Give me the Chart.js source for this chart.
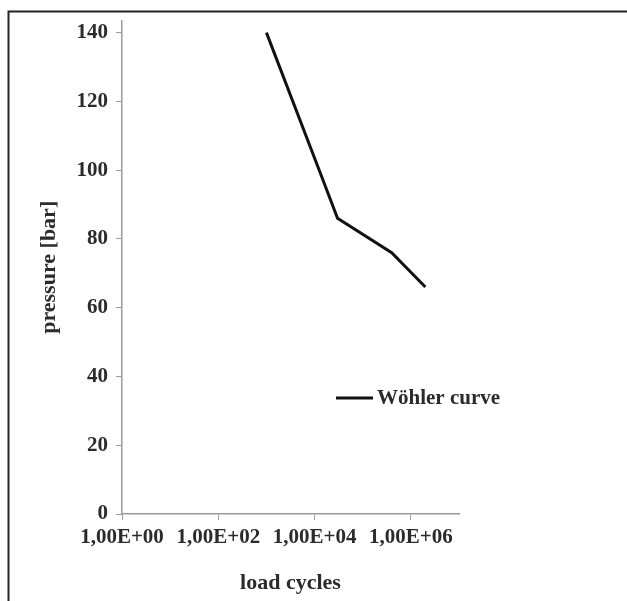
<!DOCTYPE html>
<html>
<head>
<meta charset="utf-8">
<script src="https://cdn.jsdelivr.net/npm/chart.js@4"></script>
<style>
  html, body { margin: 0; padding: 0; background: #fff; }
  #wrap { width: 627px; height: 601px; }
</style>
</head>
<body>
<div id="wrap"><canvas id="myChart" width="627" height="601"></canvas></div>
<script>
const loadCycles = [1000, 12500, 30000, 400000, 2000000];
const pressure = [140, 100, 86, 76, 66];
const xTickValues = [1, 100, 10000, 1000000];
const yTickValues = [0, 20, 40, 60, 80, 100, 120, 140];
const seriesName = 'Wöhler curve';

const serif = '"Liberation Serif", "Times New Roman", serif';
const ink = '#2b2b2b';
const axisGray = '#9a9a9a';

const sciLabel = (v) => {
  const e = Math.round(Math.log10(v));
  return '1,00E+' + (e < 10 ? '0' + e : e);
};

// frame: only top and left edges show in the picture
const framePlugin = {
  id: 'frame',
  beforeDraw(chart) {
    const c = chart.ctx;
    c.save();
    c.fillStyle = '#fff';
    c.fillRect(0, 0, chart.width, chart.height);
    c.strokeStyle = '#222';
    c.lineWidth = 2;
    c.beginPath();
    c.moveTo(8.5, chart.height);
    c.lineTo(8.5, 11.5);
    c.lineTo(chart.width, 11.5);
    c.stroke();
    c.restore();
  }
};

// legend sits inside the plot, Excel style
const innerLegend = {
  id: 'innerLegend',
  afterDatasetsDraw(chart) {
    const c = chart.ctx;
    const ds = chart.data.datasets[0];
    const x0 = 336, y0 = 398;
    c.save();
    c.strokeStyle = '#111';
    c.lineWidth = 3;
    c.beginPath();
    c.moveTo(x0, y0);
    c.lineTo(x0 + 37, y0);
    c.stroke();
    c.fillStyle = ink;
    c.font = 'bold 21px ' + serif;
    c.textBaseline = 'middle';
    c.fillText(ds.label, x0 + 41, y0 + 1);
    c.restore();
  }
};

new Chart(document.getElementById('myChart'), {
  type: 'line',
  data: {
    datasets: [{
      label: seriesName,
      data: loadCycles.map((x, i) => ({x: x, y: pressure[i]})),
      borderColor: '#111',
      borderWidth: 3,
      pointRadius: 0,
      tension: 0
    }]
  },
  options: {
    responsive: false,
    animation: false,
    layout: { padding: { left: 32, top: 12, right: 168, bottom: 0 } },
    plugins: {
      legend: { display: false },
      tooltip: { enabled: false }
    },
    scales: {
      x: {
        type: 'logarithmic',
        min: 1,
        max: 10000000,
        afterBuildTicks: (s) => { s.ticks = xTickValues.map(v => ({value: v})); },
        afterFit: (s) => { s.height = 87; },
        grid: { drawOnChartArea: false, drawTicks: true, tickLength: 6, color: axisGray },
        border: { color: axisGray, width: 1.5 },
        ticks: {
          color: ink,
          font: { family: serif, size: 21, weight: 'bold' },
          padding: 5,
          maxRotation: 0,
          autoSkip: false,
          callback: (v) => sciLabel(v)
        },
        title: {
          display: true,
          text: 'load cycles',
          color: ink,
          font: { family: serif, size: 22, weight: 'bold' },
          padding: { top: 6 }
        }
      },
      y: {
        min: 0,
        max: 143.5,
        afterBuildTicks: (s) => { s.ticks = yTickValues.map(v => ({value: v})); },
        afterFit: (s) => { s.width = 90; },
        grid: { drawOnChartArea: false, drawTicks: true, tickLength: 6, color: axisGray },
        border: { color: axisGray, width: 1.5 },
        ticks: {
          color: ink,
          font: { family: serif, size: 21, weight: 'bold' },
          padding: 8
        },
        title: {
          display: true,
          text: 'pressure [bar]',
          color: ink,
          font: { family: serif, size: 22, weight: 'bold' }
        }
      }
    }
  },
  plugins: [framePlugin, innerLegend]
});
</script>
</body>
</html>
